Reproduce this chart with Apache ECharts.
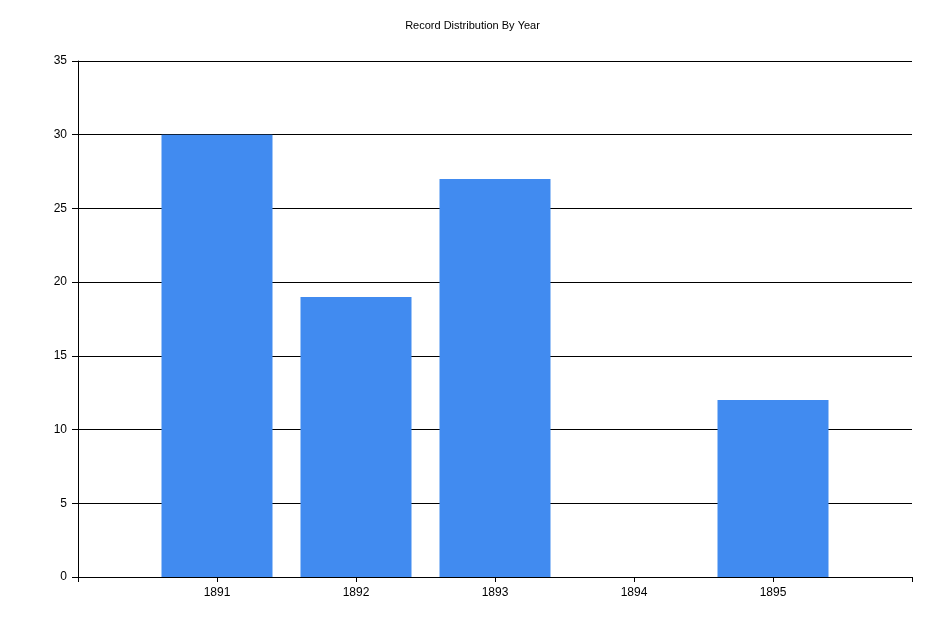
<!DOCTYPE html>
<html><head><meta charset="utf-8">
<script src="https://cdn.jsdelivr.net/npm/echarts@6/dist/echarts.min.js"></script>
<style>html,body{margin:0;padding:0;background:#fff}#c{width:945px;height:630px}</style>
</head><body><div id="c"></div>
<script>
const years = [1891, 1892, 1893, 1894, 1895];
const counts = [30, 19, 27, 0, 12];
const titleText = 'Record Distribution By Year';

const chart = echarts.init(document.getElementById('c'), null, {renderer: 'canvas'});
chart.setOption({
  animation: false,
  backgroundColor: '#ffffff',
  title: {
    text: titleText, left: 'center', top: 15,
    textStyle: {fontFamily: 'Liberation Sans, Arial, sans-serif', fontSize: 11, fontWeight: 'normal', color: '#000'}
  },
  grid: {left: 78, right: 33, top: 61, bottom: 53, containLabel: false},
  xAxis: {
    type: 'value', min: 1890, max: 1896, interval: 1,
    axisLine: {show: true, lineStyle: {color: '#000', width: 1}},
    axisTick: {show: true, length: 5, lineStyle: {color: '#000'}},
    splitLine: {show: false},
    axisLabel: {
      color: '#000', fontFamily: 'Liberation Sans, Arial, sans-serif', fontSize: 12, margin: 10,
      formatter: v => (years.indexOf(v) >= 0 ? String(v) : ''),
      showMinLabel: true, showMaxLabel: true
    }
  },
  yAxis: {
    type: 'value', min: 0, max: 35, interval: 5,
    axisLine: {show: true, onZero: false, lineStyle: {color: '#000', width: 1}},
    axisTick: {show: true, length: 6, lineStyle: {color: '#000'}},
    splitLine: {show: true, lineStyle: {color: '#000', width: 1}},
    axisLabel: {color: '#000', fontFamily: 'Liberation Sans, Arial, sans-serif', fontSize: 12, margin: 11}
  },
  series: [{
    type: 'bar',
    data: years.map((y, i) => [y, counts[i]]),
    barWidth: 111,
    itemStyle: {color: '#418BF0'}
  }]
});
</script></body></html>
